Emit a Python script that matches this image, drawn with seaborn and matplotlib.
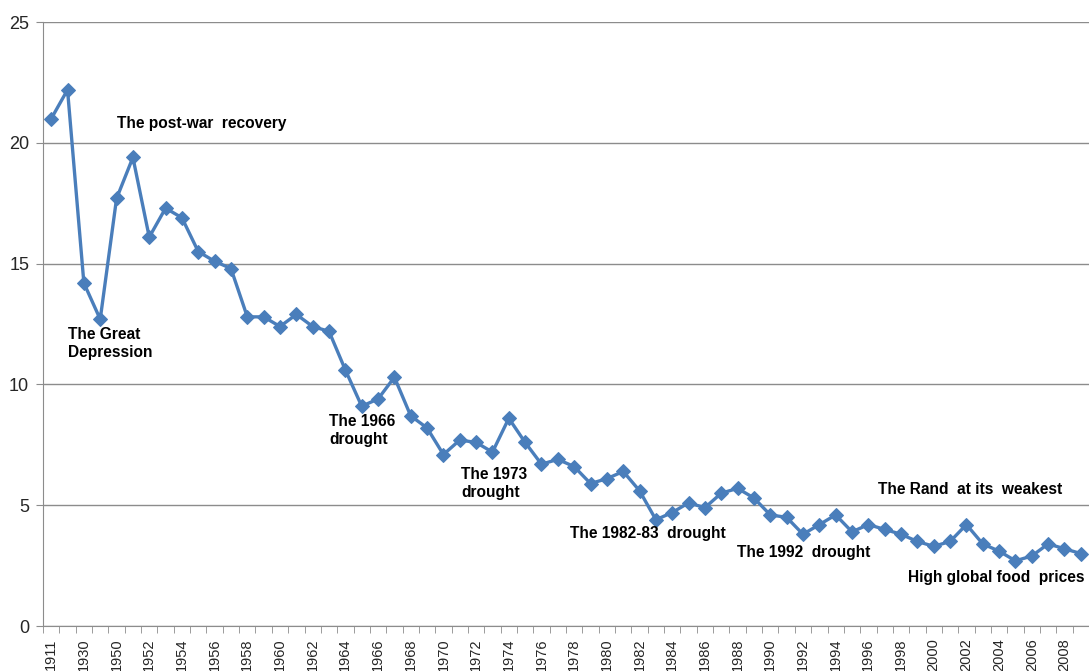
import matplotlib
matplotlib.use("Agg")
import matplotlib.pyplot as plt
import seaborn as sns
import numpy as np
import pandas as pd

years = ["1911", "1920", "1930", "1940"] + [str(y) for y in range(1950, 2010)]
values = [21.0, 22.2, 14.2, 12.7,
          17.7, 19.4, 16.1, 17.3, 16.9, 15.5, 15.1, 14.8, 12.8, 12.8,
          12.4, 12.9, 12.4, 12.2, 10.6, 9.1, 9.4, 10.3, 8.7, 8.2,
          7.1, 7.7, 7.6, 7.2, 8.6, 7.6, 6.7, 6.9, 6.6, 5.9,
          6.1, 6.4, 5.6, 4.4, 4.7, 5.1, 4.9, 5.5, 5.7, 5.3,
          4.6, 4.5, 3.8, 4.2, 4.6, 3.9, 4.2, 4.0, 3.8, 3.5,
          3.3, 3.5, 4.2, 3.4, 3.1, 2.7, 2.9, 3.4, 3.2, 3.0]

annotations = [
    ("The post-war  recovery", 4.0, 20.8),
    ("The Great\nDepression", 1.05, 11.7),
    ("The 1966\ndrought", 17.0, 8.1),
    ("The 1973\ndrought", 25.1, 5.9),
    ("The 1982-83  drought", 31.75, 3.85),
    ("The 1992  drought", 41.95, 3.05),
    ("The Rand  at its  weakest", 50.6, 5.67),
    ("High global food  prices", 52.45, 1.99),
]

sns.set_style("white")
plt.rcParams['font.family'] = ['Liberation Sans', 'DejaVu Sans']

df = pd.DataFrame({"idx": np.arange(len(years)), "value": values})

fig = plt.figure(figsize=(10.89, 6.71), dpi=100)
ax = fig.add_axes([0.0395, 0.067, 0.9605, 0.9])

ax.yaxis.grid(True, color="#8c8c8c", linewidth=1.0)
ax.set_axisbelow(True)

sns.lineplot(data=df, x="idx", y="value", ax=ax, color="#4a7ebb",
             linewidth=2.4, marker="D", markersize=7, markeredgecolor="#4a7ebb")

ax.set_xlim(-0.5, len(years) - 0.5)
ax.set_ylim(0, 25)
ax.set_yticks([0, 5, 10, 15, 20, 25])
ax.tick_params(axis="y", labelsize=13, length=5, direction="out", color="#8c8c8c", pad=5, left=True)

ax.set_xticks(np.arange(0, len(years), 2))
ax.set_xticklabels(years[::2], rotation=90, fontsize=10.5)
ax.set_xticks(np.arange(-0.5, len(years), 1), minor=True)
ax.tick_params(axis="x", which="major", length=0, pad=9)
ax.tick_params(axis="x", which="minor", length=5, direction="out", color="#8c8c8c", bottom=True)

ax.set_xlabel("")
ax.set_ylabel("")
for s in ["top", "right"]:
    ax.spines[s].set_visible(False)
ax.spines["left"].set_color("#8c8c8c")
ax.spines["bottom"].set_color("#8c8c8c")

for text, x, y in annotations:
    ax.text(x, y, text, fontsize=11.2, fontweight="bold", ha="left", va="center",
            linespacing=1.25, color="black")

fig.savefig("out.png", dpi=100)
